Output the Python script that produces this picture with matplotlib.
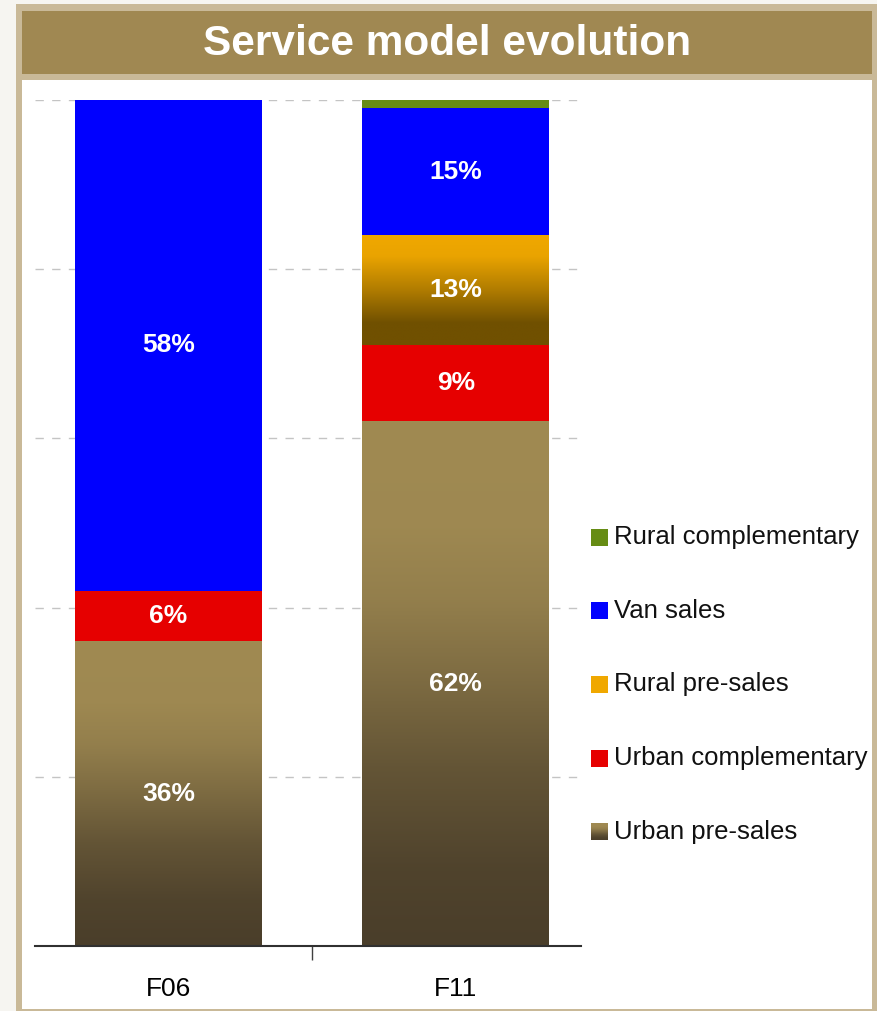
import numpy as np
import matplotlib
matplotlib.use('Agg')
import matplotlib.pyplot as plt
from matplotlib.patches import Rectangle
from matplotlib.colors import to_rgb

plt.rcParams['font.family'] = ['Liberation Sans', 'DejaVu Sans']

# chart data (percent of outlets by service model)
categories  = ['F06', 'F11']
series      = ['Urban pre-sales', 'Urban complementary', 'Rural pre-sales',
               'Van sales', 'Rural complementary']
urban_pre   = [36, 62]
urban_comp  = [6, 9]
rural_pre   = [0, 13]
van_sales   = [58, 15]
rural_comp  = [0, 1]
title       = 'Service model evolution'

values = [urban_pre, urban_comp, rural_pre, van_sales, rural_comp]

# colours: (top, bottom, profile) for gradient fills, plain hex otherwise
fills = {
    'Urban pre-sales':     ('#A08A52', '#4A3E2A',
                            [(0, 0), (0.2, 0.02), (0.34, 0.15), (0.48, 0.38),
                             (0.66, 0.70), (0.85, 0.93), (1, 1)]),
    'Urban complementary': '#E60000',
    'Rural pre-sales':     ('#F0A800', '#705000',
                            [(0, 0), (0.19, 0.05), (0.5, 0.5), (0.8, 1), (1, 1)]),
    'Van sales':           '#0000FF',
    'Rural complementary': '#668C14',
}
# legend swatches that keep the gradient
legend_gradient = {'Urban pre-sales'}

W, H = 877, 1011
fig = plt.figure(figsize=(W / 100, H / 100), dpi=100)
fig.patch.set_facecolor('#F6F5F1')


def px_rect(x0, y0, x1, y1, color, z=0):
    # rectangle given in pixel coords from the top-left corner
    fig.add_artist(Rectangle((x0 / W, 1 - y1 / H), (x1 - x0) / W, (y1 - y0) / H,
                             transform=fig.transFigure, facecolor=color,
                             edgecolor='none', zorder=z))


def gradient_image(spec, n=256):
    top, bottom, prof = spec
    t = np.linspace(0, 1, n)
    f = np.interp(t, [p[0] for p in prof], [p[1] for p in prof])
    c0, c1 = np.array(to_rgb(top)), np.array(to_rgb(bottom))
    img = c0[None, :] * (1 - f[:, None]) + c1[None, :] * f[:, None]
    return img[:, None, :]


# frame, title banner and white panel
px_rect(16, 4, 880, 1014, '#C9B998')
px_rect(22, 11, 872, 74, '#A08852')
px_rect(22, 80, 872, 1009, '#FFFFFF')
fig.text(447 / W, 1 - 44 / H, title, ha='center', va='center',
         color='white', fontsize=30.5, fontweight='bold')

ax = fig.add_axes([35 / W, 1 - 946 / H, (581 - 35) / W, (946 - 100) / H])
ax.set_facecolor('none')

x = np.arange(len(categories))
bar_w = 0.65
bottoms = np.zeros(len(categories))
for name, vals in zip(series, values):
    vals = np.array(vals, dtype=float)
    spec = fills[name]
    plain = isinstance(spec, str)
    bars = ax.bar(x, vals, bar_w, bottom=bottoms,
                  color=spec if plain else 'none', edgecolor='none',
                  linewidth=0, zorder=2)
    if not plain:
        img = gradient_image(spec)
        for b, v in zip(bars, vals):
            if v <= 0:
                continue
            im = ax.imshow(img, extent=(b.get_x(), b.get_x() + b.get_width(),
                                        b.get_y(), b.get_y() + b.get_height()),
                           aspect='auto', origin='upper', zorder=2,
                           interpolation='bilinear')
            im.set_clip_path(b)
    for xi, b0, v in zip(x, bottoms, vals):
        if v >= 5:
            ax.text(xi, b0 + v / 2, f'{v:.0f}%', ha='center', va='center',
                    color='white', fontsize=19, fontweight='bold', zorder=4)
    bottoms += vals

ax.set_xlim(-0.464, 1.435)
ax.set_ylim(0, 100)

ax.set_yticks([20, 40, 60, 80, 100])
ax.yaxis.grid(True, color='#C4C4C4', linewidth=1, linestyle=(0, (6, 6)))
ax.set_axisbelow(True)
ax.tick_params(axis='y', length=0, labelleft=False)
for side in ('left', 'right', 'top'):
    ax.spines[side].set_visible(False)
ax.spines['bottom'].set_color('#303030')
ax.spines['bottom'].set_linewidth(1.5)

ax.set_xticks(x)
ax.set_xticklabels(categories, fontsize=19)
ax.tick_params(axis='x', length=0, pad=22)
ax.set_xticks([0.5], minor=True)
ax.tick_params(axis='x', which='minor', length=10, width=1, color='#404040',
               direction='out')

# legend, listed top to bottom in reverse stacking order
leg_y0, leg_step = 537, 73.7
for i, name in enumerate(series[::-1]):
    yc = leg_y0 + i * leg_step
    spec = fills[name]
    box = (591 / W, 1 - (yc + 8.5) / H, 17 / W, 17 / H)
    if name in legend_gradient:
        lax = fig.add_axes(box)
        lax.imshow(gradient_image(spec), aspect='auto', origin='upper')
        lax.axis('off')
    else:
        color = spec if isinstance(spec, str) else spec[0]
        fig.add_artist(Rectangle(box[:2], box[2], box[3], transform=fig.transFigure,
                                 facecolor=color, edgecolor='none', zorder=3))
    fig.text(614 / W, 1 - yc / H, name, ha='left', va='center',
             fontsize=18.5, color='#111111')

fig.savefig('out.png', dpi=100, facecolor=fig.get_facecolor())
